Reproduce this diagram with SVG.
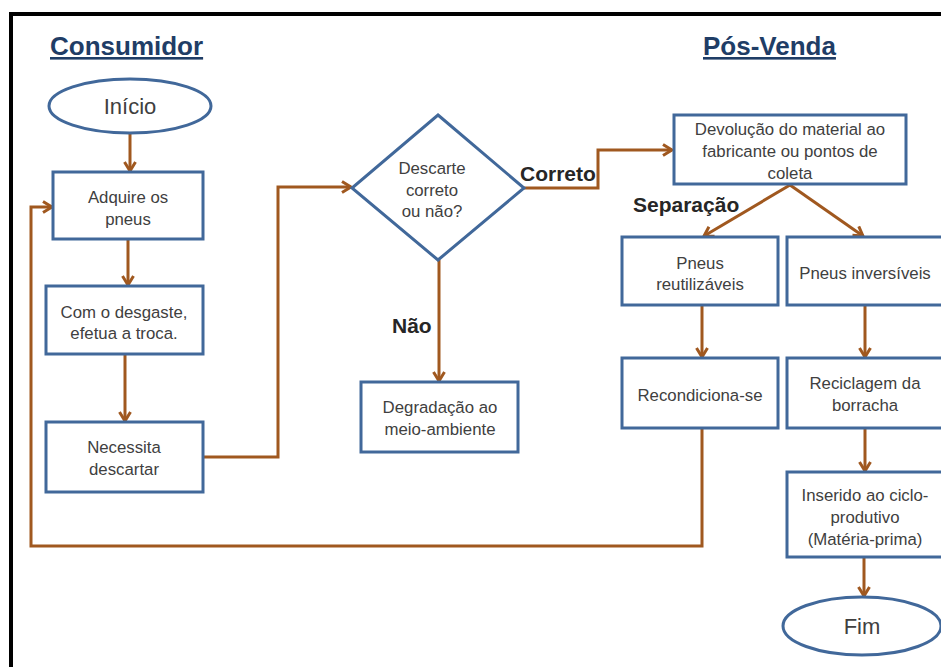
<svg xmlns="http://www.w3.org/2000/svg" width="941" height="667" viewBox="0 0 941 667">
<style>
.box{fill:#fff;stroke:#41689A;stroke-width:3}
.t{font-family:"Liberation Sans",Arial,sans-serif;font-size:16.8px;fill:#404040;text-anchor:middle}
.big{font-family:"Liberation Sans",Arial,sans-serif;font-size:22px;fill:#404040;text-anchor:middle}
.title{font-family:"Liberation Sans",Arial,sans-serif;font-size:26px;font-weight:bold;fill:#1F3D66;text-decoration:underline}
.lab{font-family:"Liberation Sans",Arial,sans-serif;font-size:21px;font-weight:bold;fill:#262626}
.c{fill:none;stroke:#A0581F;stroke-width:3}
</style>
<defs>
<marker id="ah" viewBox="0 0 14 14" markerWidth="14" markerHeight="14" refX="12" refY="7" orient="auto" markerUnits="userSpaceOnUse">
<path d="M3,1.5 L12,7 L3,12.5" fill="none" stroke="#A0581F" stroke-width="3"/>
</marker>
</defs>
<rect width="941" height="667" fill="#fff"/>
<g id="frame">
<line x1="9" y1="14" x2="941" y2="14" stroke="#000" stroke-width="4"/>
<line x1="11" y1="12" x2="11" y2="667" stroke="#000" stroke-width="4"/>
</g>
<g id="titles">
<text class="title" x="50" y="55">Consumidor</text>
<text class="title" x="703" y="55">Pós-Venda</text>
</g>
<g id="connectors">
<line class="c" x1="130" y1="133" x2="130" y2="171" marker-end="url(#ah)"/>
<line class="c" x1="128" y1="239" x2="128" y2="285" marker-end="url(#ah)"/>
<line class="c" x1="125" y1="354" x2="125" y2="421" marker-end="url(#ah)"/>
<polyline class="c" points="203,457 278,457 278,187 351,187" marker-end="url(#ah)"/>
<line class="c" x1="439" y1="260" x2="439" y2="381" marker-end="url(#ah)"/>
<polyline class="c" points="523,188 598,188 598,150 672,150" marker-end="url(#ah)"/>
<line class="c" x1="790" y1="185" x2="704" y2="236" marker-end="url(#ah)"/>
<line class="c" x1="790" y1="185" x2="863" y2="236" marker-end="url(#ah)"/>
<line class="c" x1="702" y1="305" x2="702" y2="357" marker-end="url(#ah)"/>
<line class="c" x1="865" y1="305" x2="865" y2="357" marker-end="url(#ah)"/>
<line class="c" x1="865" y1="428" x2="865" y2="471" marker-end="url(#ah)"/>
<line class="c" x1="864" y1="557" x2="864" y2="596" marker-end="url(#ah)"/>
<polyline class="c" points="702,428 702,546 31,546 31,207 52,207" marker-end="url(#ah)"/>
</g>
<g id="labels">
<text class="lab" x="520" y="181">Correto</text>
<text class="lab" x="633" y="212">Separação</text>
<text class="lab" x="392" y="333">Não</text>
</g>
<g id="inicio">
<ellipse class="box" cx="130" cy="106" rx="81" ry="27"/>
<text class="big" x="130" y="114">Início</text>
</g>
<g id="adquire">
<rect class="box" x="53" y="172" width="150" height="67"/>
<text class="t" x="128" y="203">Adquire os</text>
<text class="t" x="128" y="225">pneus</text>
</g>
<g id="desgaste">
<rect class="box" x="46" y="286" width="157" height="68"/>
<text class="t" x="124" y="318">Com o desgaste,</text>
<text class="t" x="124" y="339">efetua a troca.</text>
</g>
<g id="necessita">
<rect class="box" x="46" y="422" width="157" height="70"/>
<text class="t" x="124" y="453">Necessita</text>
<text class="t" x="124" y="475">descartar</text>
</g>
<g id="decisao">
<polygon class="box" points="438,115 524,188 438,260 352,188"/>
<text class="t" x="432" y="174">Descarte</text>
<text class="t" x="432" y="196">correto</text>
<text class="t" x="432" y="217">ou não?</text>
</g>
<g id="degradacao">
<rect class="box" x="361" y="382" width="157" height="70"/>
<text class="t" x="440" y="413">Degradação ao</text>
<text class="t" x="440" y="435">meio-ambiente</text>
</g>
<g id="devolucao">
<rect class="box" x="674" y="115" width="232" height="69"/>
<text class="t" x="790" y="135">Devolução do material ao</text>
<text class="t" x="790" y="157">fabricante ou pontos de</text>
<text class="t" x="790" y="179">coleta</text>
</g>
<g id="reutilizaveis">
<rect class="box" x="622" y="237" width="156" height="68"/>
<text class="t" x="700" y="269">Pneus</text>
<text class="t" x="700" y="290">reutilizáveis</text>
</g>
<g id="inversiveis">
<rect class="box" x="787" y="237" width="156" height="68"/>
<text class="t" x="865" y="279">Pneus inversíveis</text>
</g>
<g id="recondiciona">
<rect class="box" x="622" y="358" width="156" height="70"/>
<text class="t" x="700" y="401">Recondiciona-se</text>
</g>
<g id="reciclagem">
<rect class="box" x="787" y="358" width="156" height="70"/>
<text class="t" x="865" y="389">Reciclagem da</text>
<text class="t" x="865" y="411">borracha</text>
</g>
<g id="inserido">
<rect class="box" x="787" y="472" width="156" height="85"/>
<text class="t" x="865" y="501">Inserido ao ciclo-</text>
<text class="t" x="865" y="523">produtivo</text>
<text class="t" x="865" y="545">(Matéria-prima)</text>
</g>
<g id="fim">
<ellipse class="box" cx="862" cy="626" rx="79" ry="29"/>
<text class="big" x="862" y="634">Fim</text>
</g>
</svg>
